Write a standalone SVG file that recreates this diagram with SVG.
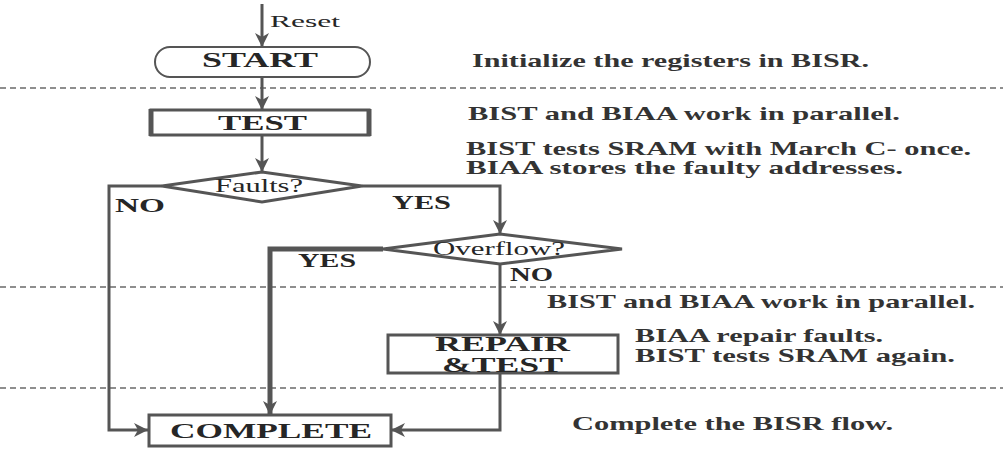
<svg xmlns="http://www.w3.org/2000/svg" width="1003" height="450" viewBox="0 0 1003 450">
  <style>
    .bg { fill: #ffffff; }
    .sep { stroke: #6a6a6a; stroke-width: 1.6; stroke-dasharray: 6 4; fill: none; }
    .edge { stroke: #555555; stroke-width: 3; fill: none; }
    .thick { stroke-width: 5; }
    .shape { fill: #ffffff; stroke: #555555; stroke-width: 3; }
    .t { font-family: "Liberation Serif", "Times New Roman", serif; fill: #262626; }
    .b { font-weight: bold; }
    .lbl { font-size: 22px; font-weight: bold; }
    .note { font-size: 19px; font-weight: bold; fill: #333333; }
  </style>
  <defs>
    <marker id="arrow" markerUnits="userSpaceOnUse" markerWidth="16" markerHeight="14" refX="14" refY="7" orient="auto">
      <path d="M0,0 L14,7 L0,14 L4,7 Z" fill="#555555"/>
    </marker>
  </defs>
  <rect class="bg" x="0" y="0" width="1003" height="450"/>

  <g id="separators">
    <line class="sep" x1="0" y1="88" x2="1003" y2="88"/>
    <line class="sep" x1="0" y1="287" x2="1003" y2="287"/>
    <line class="sep" x1="0" y1="388" x2="1003" y2="388"/>
  </g>

  <g id="connectors">
    <path class="edge" d="M262,4 V47" marker-end="url(#arrow)"/>
    <path class="edge" d="M262,77 V110" marker-end="url(#arrow)"/>
    <path class="edge" d="M262,135 V172" marker-end="url(#arrow)"/>
    <path class="edge" d="M162,186 H109 V430 H148" marker-end="url(#arrow)"/>
    <path class="edge" d="M362,186 H500 V234" marker-end="url(#arrow)"/>
    <path class="edge thick" d="M383,249 H270 V415" marker-end="url(#arrow)"/>
    <path class="edge" d="M500,264 V335" marker-end="url(#arrow)"/>
    <path class="edge" d="M500,373 V430 H391" marker-end="url(#arrow)"/>
    <text class="t" x="270" y="27" font-size="17" textLength="70" lengthAdjust="spacingAndGlyphs">Reset</text>
    <text class="t b" x="115" y="212" font-size="19" textLength="50" lengthAdjust="spacingAndGlyphs">NO</text>
    <text class="t b" x="392" y="209" font-size="19" textLength="59" lengthAdjust="spacingAndGlyphs">YES</text>
    <text class="t b" x="298" y="267" font-size="19" textLength="58" lengthAdjust="spacingAndGlyphs">YES</text>
    <text class="t b" x="510" y="281" font-size="19" textLength="43" lengthAdjust="spacingAndGlyphs">NO</text>
  </g>

  <g id="start">
    <rect x="155" y="47" width="215" height="30" rx="15" ry="15" fill="#ffffff" stroke="#555555" stroke-width="2"/>
    <text class="t lbl" x="202" y="67" font-size="21" textLength="116" lengthAdjust="spacingAndGlyphs">START</text>
  </g>

  <g id="test">
    <rect class="shape" x="151" y="110" width="218" height="25" stroke-width="2.5"/>
    <line x1="151" y1="109" x2="151" y2="136" stroke="#555555" stroke-width="5"/>
    <line x1="369" y1="109" x2="369" y2="136" stroke="#555555" stroke-width="5"/>
    <text class="t lbl" x="218" y="130" font-size="21" textLength="89" lengthAdjust="spacingAndGlyphs">TEST</text>
  </g>

  <g id="faults">
    <polygon class="shape" points="162,186 262,172 362,186 262,202" stroke-width="2"/>
    <text class="t" x="215" y="192" font-size="19" textLength="88" lengthAdjust="spacingAndGlyphs">Faults?</text>
  </g>

  <g id="overflow">
    <polygon class="shape" points="383,249 500,234 622,249 500,264" stroke-width="2"/>
    <text class="t" x="433" y="255" font-size="18" textLength="132" lengthAdjust="spacingAndGlyphs">Overflow?</text>
  </g>

  <g id="repair">
    <rect class="shape" x="388" y="335" width="230" height="38" stroke-width="3.5"/>
    <text class="t b" x="435" y="351" font-size="20" textLength="135" lengthAdjust="spacingAndGlyphs">REPAIR</text>
    <text class="t b" x="442" y="372" font-size="20" textLength="121" lengthAdjust="spacingAndGlyphs">&amp;TEST</text>
  </g>

  <g id="complete">
    <rect class="shape" x="149" y="415" width="242" height="31" stroke-width="4"/>
    <text class="t lbl" x="170" y="438" textLength="202" lengthAdjust="spacingAndGlyphs">COMPLETE</text>
  </g>

  <g id="notes">
    <text class="t note" x="472" y="67" textLength="397" lengthAdjust="spacingAndGlyphs">Initialize the registers in BISR.</text>
    <text class="t note" x="468" y="120" textLength="432" lengthAdjust="spacingAndGlyphs">BIST and BIAA work in parallel.</text>
    <text class="t note" x="466" y="155" textLength="505" lengthAdjust="spacingAndGlyphs">BIST tests SRAM with March C- once.</text>
    <text class="t note" x="466" y="174" textLength="437" lengthAdjust="spacingAndGlyphs">BIAA stores the faulty addresses.</text>
    <text class="t note" x="547" y="308" textLength="428" lengthAdjust="spacingAndGlyphs">BIST and BIAA work in parallel.</text>
    <text class="t note" x="635" y="342" textLength="248" lengthAdjust="spacingAndGlyphs">BIAA repair faults.</text>
    <text class="t note" x="635" y="362" textLength="320" lengthAdjust="spacingAndGlyphs">BIST tests SRAM again.</text>
    <text class="t note" x="572" y="430" textLength="321" lengthAdjust="spacingAndGlyphs">Complete the BISR flow.</text>
  </g>
</svg>
